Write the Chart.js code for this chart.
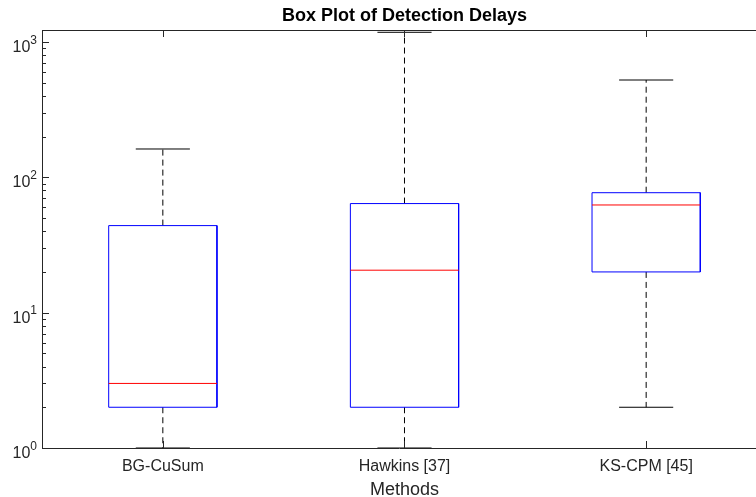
<!DOCTYPE html>
<html>
<head>
<meta charset="utf-8">
<title>Box Plot of Detection Delays</title>
<script src="https://cdn.jsdelivr.net/npm/chart.js@4/dist/chart.umd.min.js"></script>
<style>
    html, body { margin: 0; padding: 0; background: #fff; overflow: hidden; }
</style>
</head>
<body>
<canvas id="boxChart" width="756" height="497"></canvas>
<script>
// Dữ liệu: mỗi phương pháp một hộp
const methods = ['BG-CuSum', 'Hawkins [37]', 'KS-CPM [45]'];
const lowerWhisker = [1, 1, 2];
const q1 = [2, 2, 20];
const medians = [3, 20.6, 62.5];
const q3 = [44, 64, 77];
const upperWhisker = [162, 1180, 524];
const yTicks = [1, 10, 100, 1000];

const FONT = '"Liberation Sans", Arial, Helvetica, sans-serif';
const AXIS_COLOR = '#262626';
const BOX_HALF = 0.224;   // nửa chiều rộng hộp (đơn vị trục x)
const CAP_HALF = 0.112;   // nửa chiều rộng gạch đầu râu
const X_MAX = 3.4545;     // trục x gốc là 0.5..3.5 nhưng hình bị cắt ở mép phải

// Mỗi phần tử hộp là một dataset riêng
function segmentSets(groups, color, dash, order) {
    return groups.map(pts => ({
        data: pts.map(p => ({ x: p[0], y: p[1] })),
        borderColor: color,
        borderWidth: 1,
        borderDash: dash,
        pointRadius: 0,
        fill: false,
        tension: 0,
        order: order
    }));
}

const boxGroups = methods.map((m, i) => {
    const x = i + 1;
    return [[x - BOX_HALF, q1[i]], [x - BOX_HALF, q3[i]], [x + BOX_HALF, q3[i]],
            [x + BOX_HALF, q1[i]], [x - BOX_HALF, q1[i]]];
});
const medianGroups = methods.map((m, i) =>
    [[i + 1 - BOX_HALF, medians[i]], [i + 1 + BOX_HALF, medians[i]]]);
const whiskerGroups = methods.flatMap((m, i) => [
    [[i + 1, q3[i]], [i + 1, upperWhisker[i]]],
    [[i + 1, q1[i]], [i + 1, lowerWhisker[i]]]
]);
const capGroups = methods.flatMap((m, i) => [
    [[i + 1 - CAP_HALF, upperWhisker[i]], [i + 1 + CAP_HALF, upperWhisker[i]]],
    [[i + 1 - CAP_HALF, lowerWhisker[i]], [i + 1 + CAP_HALF, lowerWhisker[i]]]
]);

// Plugin vẽ khung trên, vạch chia hướng vào trong, nhãn 10^n và các tiêu đề
const matlabAxes = {
    id: 'matlabAxes',
    afterDraw(chart) {
        const ctx = chart.ctx;
        const a = chart.chartArea;
        const xs = chart.scales.x;
        const ys = chart.scales.y;
        const midX = xs.getPixelForValue(2);   // giữa trục x đầy đủ
        ctx.save();
        ctx.strokeStyle = AXIS_COLOR;
        ctx.lineWidth = 1;
        ctx.beginPath();
        ctx.moveTo(a.left, Math.round(a.top) + 0.5);
        ctx.lineTo(a.right, Math.round(a.top) + 0.5);
        // vạch chia trục x (dưới và trên)
        methods.forEach((m, i) => {
            const px = Math.round(xs.getPixelForValue(i + 1)) + 0.5;
            ctx.moveTo(px, a.bottom); ctx.lineTo(px, a.bottom - 7);
            ctx.moveTo(px, a.top); ctx.lineTo(px, a.top + 7);
        });
        // vạch chia trục y: chính và phụ
        for (let d = 1; d <= 1000; d *= 10) {
            for (let k = 1; k <= 9; k++) {
                const v = d * k;
                if (v > ys.max) break;
                const py = Math.round(ys.getPixelForValue(v)) + 0.5;
                const len = k === 1 ? 7 : 4;
                ctx.moveTo(a.left, py); ctx.lineTo(a.left + len, py);
            }
        }
        ctx.stroke();

        // nhãn trục y dạng 10 mũ n
        ctx.fillStyle = AXIS_COLOR;
        ctx.textBaseline = 'alphabetic';
        ctx.textAlign = 'right';
        yTicks.forEach(v => {
            const py = ys.getPixelForValue(v);
            const exp = String(Math.round(Math.log10(v)));
            ctx.font = '12px ' + FONT;
            const expW = ctx.measureText(exp).width;
            ctx.fillText(exp, a.left - 5, py + 1.5);
            ctx.font = '16px ' + FONT;
            ctx.fillText('10', a.left - 5 - expW, py + 10);
        });

        // tiêu đề và nhãn trục x, căn giữa theo trục đầy đủ
        ctx.textAlign = 'center';
        ctx.textBaseline = 'middle';
        ctx.font = '18px ' + FONT;
        ctx.fillText('Methods', midX, 489.9);
        ctx.fillStyle = '#000000';
        ctx.font = 'bold 18px ' + FONT;
        ctx.fillText('Box Plot of Detection Delays', midX, 15.7);
        ctx.restore();
    }
};

function renderBoxChart() {
    const ctx = document.getElementById('boxChart').getContext('2d');
    new Chart(ctx, {
        type: 'line',
        data: {
            datasets: [
                ...segmentSets(medianGroups, '#ff0000', [], 1),
                ...segmentSets(boxGroups, '#0000ff', [], 2),
                ...segmentSets(capGroups, '#000000', [], 3),
                ...segmentSets(whiskerGroups, '#000000', [6, 4], 4)
            ]
        },
        options: {
            responsive: false,
            animation: false,
            layout: { padding: { top: 30, left: 0, right: 0, bottom: 0 } },
            plugins: {
                legend: { display: false },
                tooltip: { enabled: false },
                title: { display: false }
            },
            scales: {
                x: {
                    type: 'linear',
                    min: 0.5,
                    max: X_MAX,
                    afterBuildTicks: scale => {
                        scale.ticks = methods.map((m, i) => ({ value: i + 1 }));
                    },
                    afterFit: scale => { scale.height = 49; },
                    grid: { display: false, drawTicks: false },
                    border: { display: true, color: AXIS_COLOR, width: 1 },
                    ticks: {
                        autoSkip: false,
                        maxRotation: 0,
                        padding: 8.6,
                        color: AXIS_COLOR,
                        font: { family: FONT, size: 16 },
                        callback: value => methods[value - 1]
                    }
                },
                y: {
                    type: 'logarithmic',
                    min: 1,
                    max: 1227,
                    afterFit: scale => { scale.width = 42; },
                    grid: { display: false, drawTicks: false },
                    border: { display: true, color: AXIS_COLOR, width: 1 },
                    ticks: { display: false }
                }
            }
        },
        plugins: [matlabAxes]
    });
}

window.onload = function() {
    renderBoxChart();
};
</script>
</body>
</html>
